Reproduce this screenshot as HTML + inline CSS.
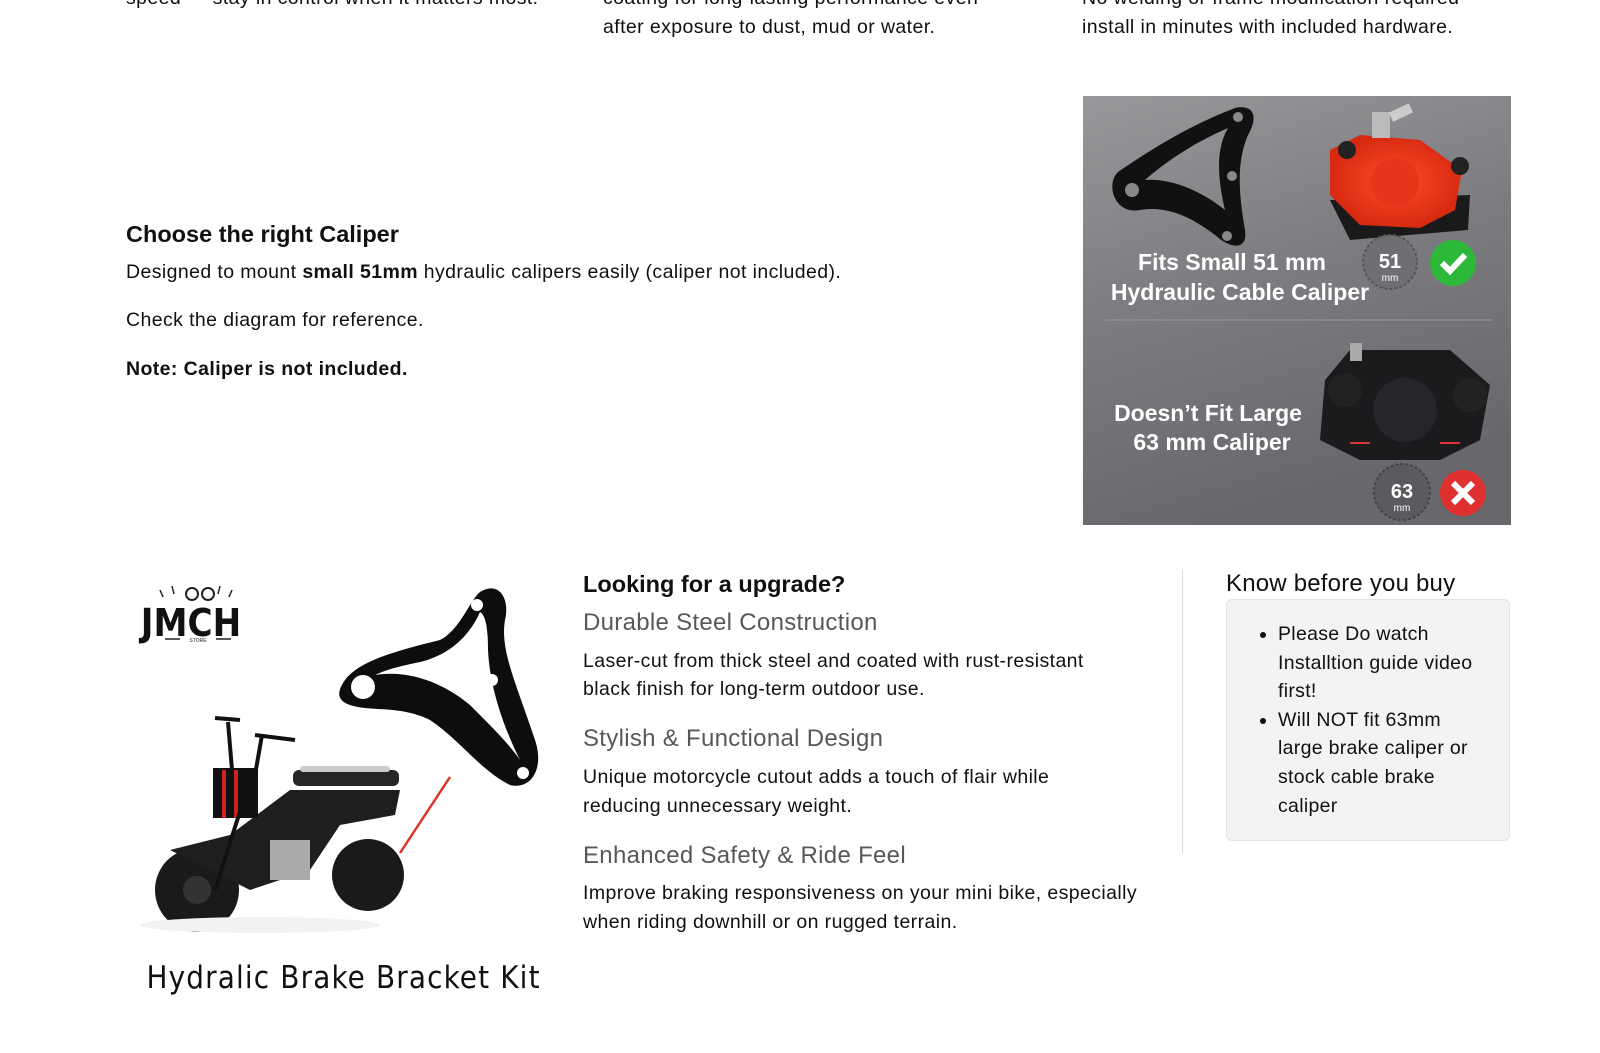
<!DOCTYPE html>
<html><head><meta charset="utf-8"><style>
body{margin:0;width:1600px;height:1053px;background:#fff;position:relative;overflow:hidden;font-family:"Liberation Sans",sans-serif;color:#0f1111}
.t{position:absolute;white-space:nowrap;font-size:19.5px;letter-spacing:0.4px;line-height:28.6px}
.h{position:absolute;white-space:nowrap;font-size:23.5px;font-weight:bold;line-height:30px}
.g{position:absolute;white-space:nowrap;font-size:24px;letter-spacing:0.3px;color:#565959;line-height:30px}
</style></head><body>
<div class="t" style="left:126px;top:-16px">speed — stay in control when it matters most.</div>
<div class="t" style="left:603px;top:-16px">coating for long-lasting performance even</div>
<div class="t" style="left:603px;top:13px">after exposure to dust, mud or water.</div>
<div class="t" style="left:1082px;top:-16px">No welding or frame modification required—</div>
<div class="t" style="left:1082px;top:13px">install in minutes with included hardware.</div>

<div class="h" style="left:126px;top:219px">Choose the right Caliper</div>
<div class="t" style="left:126px;top:258px">Designed to mount <b>small 51mm</b> hydraulic calipers easily (caliper not included).</div>
<div class="t" style="left:126px;top:306px">Check the diagram for reference.</div>
<div class="t" style="left:126px;top:355px"><b>Note: Caliper is not included.</b></div>

<svg style="position:absolute;left:1083px;top:96px" width="428" height="429" viewBox="1083 96 428 429">
<defs><linearGradient id="bg" x1="0" y1="0" x2="0.3" y2="1"><stop offset="0" stop-color="#98989b"/><stop offset="0.5" stop-color="#7c7c80"/><stop offset="1" stop-color="#68686c"/></linearGradient>
<radialGradient id="rc" cx="0.5" cy="0.5" r="0.5"><stop offset="0" stop-color="#ff4a2a"/><stop offset="1" stop-color="#d82a10"/></radialGradient></defs>
<rect x="1083" y="96" width="428" height="429" fill="url(#bg)"/>
<path d="M1118 172 C1150 150 1190 125 1235 108 C1255 104 1258 118 1248 135 C1235 165 1240 200 1245 230 C1248 250 1232 250 1215 235 C1195 220 1170 205 1140 210 C1115 215 1105 185 1118 172 Z M1145 180 C1170 178 1200 190 1225 210 C1218 180 1215 150 1228 128 C1200 140 1170 158 1145 180 Z" fill="#111" fill-rule="evenodd"/>
<circle cx="1132" cy="190" r="7" fill="#888"/><circle cx="1238" cy="117" r="5" fill="#888"/><circle cx="1232" cy="176" r="5" fill="#888"/><circle cx="1227" cy="236" r="5" fill="#888"/>
<path d="M1330 200 L1470 195 L1468 230 L1350 240 Z" fill="#1a1a1a"/>
<path d="M1330 150 L1360 135 L1420 140 L1462 170 L1455 210 L1420 228 L1360 225 L1330 195 Z" fill="url(#rc)"/>
<circle cx="1395" cy="182" r="24" fill="#e8341a"/>
<rect x="1372" y="112" width="18" height="26" fill="#bbb"/><rect x="1390" y="108" width="22" height="10" fill="#ccc" transform="rotate(-25 1400 113)"/>
<circle cx="1347" cy="150" r="9" fill="#222"/><circle cx="1460" cy="166" r="9" fill="#222"/>
<text x="1232" y="270" text-anchor="middle" fill="#fff" font-weight="bold" font-size="23">Fits Small 51 mm</text>
<text x="1240" y="300" text-anchor="middle" fill="#fff" font-weight="bold" font-size="23">Hydraulic Cable Caliper</text>
<circle cx="1390" cy="262" r="27" fill="#6e6f73" stroke="#555" stroke-dasharray="3 2" stroke-width="2"/>
<text x="1390" y="268" text-anchor="middle" fill="#fff" font-weight="bold" font-size="20">51</text><text x="1390" y="281" text-anchor="middle" fill="#fff" font-size="10">mm</text>
<circle cx="1453" cy="263" r="23" fill="#2eb83a"/><path d="M1442 263 L1450 271 L1465 255" stroke="#fff" stroke-width="6" fill="none"/>
<line x1="1103" y1="320" x2="1492" y2="320" stroke="#9a9a9d" stroke-width="1"/>
<path d="M1325 380 L1350 350 L1450 350 L1490 385 L1480 440 L1440 460 L1360 460 L1320 440 Z" fill="#1b1b1d"/>
<circle cx="1405" cy="410" r="32" fill="#26262a"/><circle cx="1345" cy="390" r="17" fill="#222"/><circle cx="1470" cy="395" r="17" fill="#222"/>
<rect x="1350" y="343" width="12" height="18" fill="#aaa"/><line x1="1350" y1="443" x2="1370" y2="443" stroke="#d33" stroke-width="2"/><line x1="1440" y1="443" x2="1460" y2="443" stroke="#d33" stroke-width="2"/>
<text x="1208" y="421" text-anchor="middle" fill="#fff" font-weight="bold" font-size="23">Doesn’t Fit Large</text>
<text x="1212" y="450" text-anchor="middle" fill="#fff" font-weight="bold" font-size="23">63 mm Caliper</text>
<circle cx="1402" cy="492" r="28" fill="#5a5b5f" stroke="#444" stroke-dasharray="3 2" stroke-width="2"/>
<text x="1402" y="498" text-anchor="middle" fill="#fff" font-weight="bold" font-size="20">63</text><text x="1402" y="511" text-anchor="middle" fill="#fff" font-size="10">mm</text>
<circle cx="1463" cy="493" r="23" fill="#e02f2f"/><path d="M1453 483 L1473 503 M1473 483 L1453 503" stroke="#fff" stroke-width="6"/>
</svg>

<svg style="position:absolute;left:130px;top:570px" width="440" height="440" viewBox="130 570 440 440">
<g stroke="#222" stroke-width="1.5"><line x1="160" y1="590" x2="163" y2="597"/><line x1="172" y1="586" x2="174" y2="594"/><line x1="220" y1="586" x2="218" y2="594"/><line x1="232" y1="590" x2="229" y2="597"/><line x1="165" y1="639" x2="180" y2="639"/><line x1="216" y1="639" x2="231" y2="639"/></g>
<circle cx="192" cy="594" r="6" fill="none" stroke="#222" stroke-width="2"/><circle cx="208" cy="594" r="6" fill="none" stroke="#222" stroke-width="2"/>
<text x="191" y="636" text-anchor="middle" font-family="'DejaVu Sans Condensed','Liberation Sans',sans-serif" font-weight="bold" font-size="38" fill="#111">JMCH</text>
<text x="198" y="642" text-anchor="middle" font-size="5" fill="#222">STORE</text>
<path d="M345 680 C360 660 400 650 440 640 C460 630 470 600 480 592 C500 580 510 600 505 620 C500 650 515 680 535 740 C545 770 530 790 510 785 C480 770 460 740 430 720 C400 705 370 712 350 705 C335 700 338 690 345 680 Z M375 675 C405 670 440 680 470 705 C490 725 510 745 520 760 C505 730 490 690 488 650 C488 625 485 615 480 612 C470 635 450 655 420 662 C400 666 385 670 375 675 Z" fill="#0d0d0d" fill-rule="evenodd"/>
<circle cx="363" cy="687" r="12" fill="#fff"/><circle cx="477" cy="605" r="6" fill="#fff"/><circle cx="492" cy="680" r="6" fill="#fff"/><circle cx="523" cy="773" r="6" fill="#fff"/>
<line x1="450" y1="777" x2="400" y2="853" stroke="#d32" stroke-width="2.5"/>
<circle cx="197" cy="890" r="42" fill="#1a1a1a"/><circle cx="197" cy="890" r="14" fill="#333"/>
<circle cx="368" cy="875" r="36" fill="#1a1a1a"/>
<path d="M170 850 L230 835 L290 790 L400 790 L395 815 L340 825 L310 870 L250 890 Z" fill="#1e1e1e"/>
<rect x="293" y="770" width="106" height="16" rx="6" fill="#262626"/><rect x="300" y="766" width="90" height="6" rx="3" fill="#ccc"/>
<rect x="270" y="840" width="40" height="40" fill="#aaa"/>
<rect x="213" y="768" width="45" height="50" fill="#111"/><rect x="222" y="770" width="4" height="48" fill="#c22"/><rect x="234" y="770" width="4" height="48" fill="#c22"/>
<path d="M228 722 L232 770 M262 735 L255 775 M215 718 L240 720 M255 735 L295 740" stroke="#111" stroke-width="4" fill="none"/>
<line x1="250" y1="780" x2="215" y2="890" stroke="#111" stroke-width="4"/>
<ellipse cx="260" cy="925" rx="120" ry="8" fill="#f2f2f2"/>
<text x="343" y="988" text-anchor="middle" font-family="'DejaVu Sans Condensed','Liberation Sans',sans-serif" font-size="31" fill="#111" textLength="393">Hydralic Brake Bracket Kit</text>
</svg>

<div class="h" style="left:583px;top:569px">Looking for a upgrade?</div>
<div class="g" style="left:583px;top:608px">Durable Steel Construction</div>
<div class="t" style="left:583px;top:647px">Laser-cut from thick steel and coated with rust-resistant</div>
<div class="t" style="left:583px;top:675px">black finish for long-term outdoor use.</div>
<div class="g" style="left:583px;top:724px">Stylish &amp; Functional Design</div>
<div class="t" style="left:583px;top:763px">Unique motorcycle cutout adds a touch of flair while</div>
<div class="t" style="left:583px;top:792px">reducing unnecessary weight.</div>
<div class="g" style="left:583px;top:841px">Enhanced Safety &amp; Ride Feel</div>
<div class="t" style="left:583px;top:879px">Improve braking responsiveness on your mini bike, especially</div>
<div class="t" style="left:583px;top:908px">when riding downhill or on rugged terrain.</div>

<div style="position:absolute;left:1182px;top:569px;width:1px;height:284px;background:#ddd"></div>
<div style="position:absolute;left:1226px;top:569px;font-size:24px;letter-spacing:0.2px;line-height:30px;white-space:nowrap">Know before you buy</div>
<div style="position:absolute;left:1226px;top:599px;width:282px;height:240px;background:#f3f3f3;border:1px solid #e3e3e3;border-radius:6px"></div>
<ul style="position:absolute;left:1258px;top:620px;margin:0;padding:0 0 0 20px;width:200px;font-size:19.5px;letter-spacing:0.3px;line-height:28.6px">
<li>Please Do watch Installtion guide video first!</li>
<li>Will NOT fit 63mm large brake caliper or stock cable brake caliper</li>
</ul>
</body></html>
